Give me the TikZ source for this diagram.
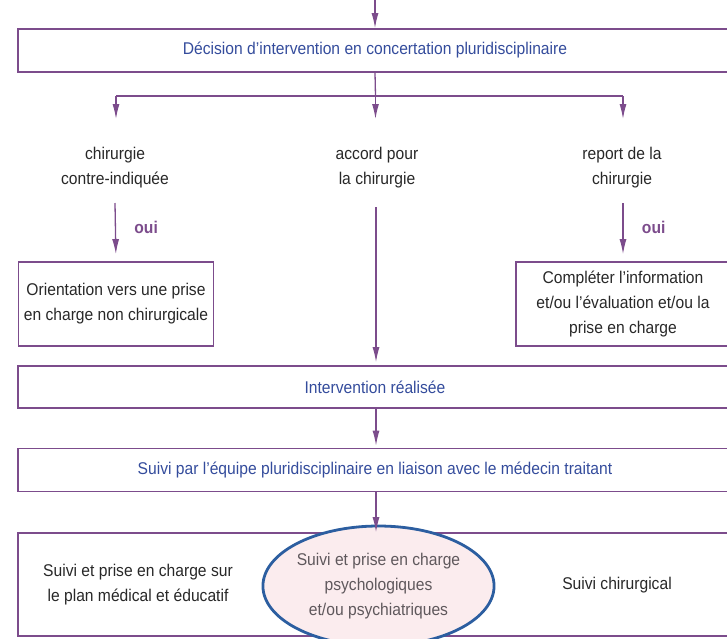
\documentclass[tikz,border=0pt]{standalone}
\usepackage{fontspec}
\setmainfont{Liberation Sans}[FakeStretch=0.92]
\usepackage{tikz}
\usetikzlibrary{shapes,arrows.meta,positioning,calc}

\definecolor{lilas}{RGB}{124,76,140}
\definecolor{bleutexte}{RGB}{52,76,156}
\definecolor{bleuovale}{RGB}{44,94,160}
\definecolor{rose}{RGB}{251,236,238}
\definecolor{gris}{RGB}{40,40,40}
\definecolor{grisclair}{RGB}{95,88,92}

\begin{document}
\begin{tikzpicture}[x=1pt, y=-1pt, auto, font=\fontsize{17}{25}\selectfont,
        wide/.style={rectangle, draw=lilas, line width=1.7pt, minimum width=714pt, minimum height=43pt, text=bleutexte},
        box/.style={rectangle, draw=lilas, line width=1.7pt, minimum height=84pt, text=gris, align=center},
        choice/.style={text=gris, align=center},
        oval/.style={ellipse, draw=bleuovale, line width=2.8pt, fill=rose, minimum width=227pt, minimum height=120pt, inner sep=0pt, text=grisclair, align=center},
        oui/.style={text=lilas, font=\fontsize{17}{20}\selectfont\bfseries},
        line/.style={draw=lilas, line width=1.3pt, -{Latex[length=15pt,width=7pt]}}]
        \useasboundingbox (0,0) rectangle (727,638);

        \coordinate (start) at (375,0);
        \node [wide] (decision) at (375,50.5) {Décision d’intervention en concertation pluridisciplinaire};

        % three branches
        \coordinate (brL) at (116,96);
        \coordinate (brM) at (375.5,96);
        \coordinate (brR) at (623,96);
        \coordinate (tipL) at (116,119);
        \coordinate (tipM) at (375.5,119);
        \coordinate (tipR) at (623,119);

        \node [choice] (contre) at (115,168) {chirurgie\\contre-indiquée};
        \node [choice] (accord) at (377,168) {accord pour\\la chirurgie};
        \node [choice] (report) at (622,168) {report de la\\chirurgie};

        \coordinate (ouiL) at (115,203);
        \coordinate (ouiR) at (623,203);
        \coordinate (accordbas) at (376,207);

        \node [box, minimum width=195pt] (orient) at (116,304) {Orientation vers une prise\\en charge non chirurgicale};
        \node [box, minimum width=214pt] (completer) at (623,304) {Compléter l’information\\et/ou l’évaluation et/ou la\\prise en charge};

        \node [wide, minimum height=42pt] (intervention) at (375,387) {Intervention réalisée};
        \node [wide] (suivi) at (375,470) {Suivi par l’équipe pluridisciplinaire en liaison avec le médecin traitant};
        \node [wide, minimum height=103pt] (bilan) at (375,584.5) {};

        \node [choice] (medical) at (138,585) {Suivi et prise en charge sur\\le plan médical et éducatif};
        \node [oval] (psy) at (378.5,586) {Suivi et prise en charge\\psychologiques\\et/ou psychiatriques};
        \node [choice] (chir) at (617,585) {Suivi chirurgical};

        \path [line] (start) -- (decision.north);
        \draw [lilas, line width=1.3pt] (decision.south) -- (brM);
        \draw [lilas, line width=1.3pt] (brL) -- (brR);
        \path [line] (brL) -- (tipL);
        \path [line] (brM) -- (tipM);
        \path [line] (brR) -- (tipR);
        \path [line, shorten >=7pt] (ouiL) -- node [oui, pos=0.42, right=15pt] {oui} (orient.north);
        \path [line, shorten >=7pt] (ouiR) -- node [oui, pos=0.42, right=15pt] {oui} (completer.north);
        \path [line, shorten >=3pt] (accordbas) -- (intervention.north -| accordbas);
        \path [line, shorten >=2pt] (intervention.south -| accordbas) -- (suivi.north -| accordbas);
        \path [line] (suivi.south -| accordbas) -- (bilan.north -| accordbas);
    \end{tikzpicture}
\end{document}
